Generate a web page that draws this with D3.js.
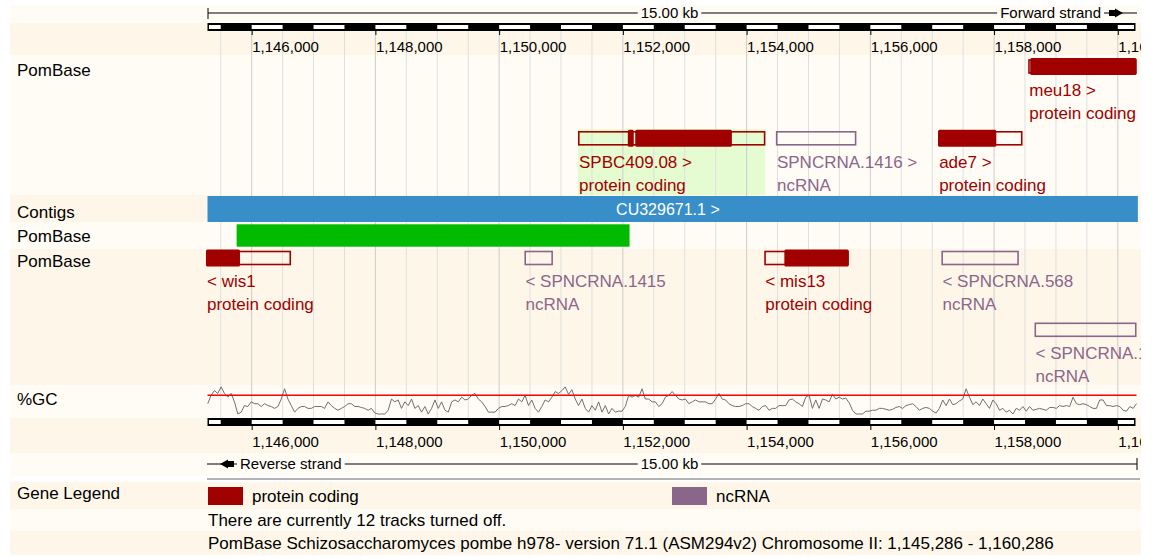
<!DOCTYPE html>
<html>
<head>
<meta charset="utf-8">
<script src="https://cdn.jsdelivr.net/npm/d3@7"></script>
<style>
  body { margin: 0; background: #fff; }
  svg text { font-family: "Liberation Sans", Arial, sans-serif; }
</style>
</head>
<body>
<svg id="chart" width="1155" height="557"></svg>
<script>
// Ensembl-style region view: PomBase, chromosome II 1,145,286 - 1,160,286

// ---- data ----
const regionStart = 1145286;
const regionEnd = 1160286;
const tickValues = [1146000, 1148000, 1150000, 1152000, 1154000, 1156000, 1158000, 1160000];
const minorStep = 500;
const scaleLabel = '15.00 kb';

const trackNames = ['PomBase', 'Contigs', 'PomBase', 'PomBase', '%GC'];

const contig = { name: 'CU329671.1', start: 1145286, end: 1160300 };
const pombaseBlock = { start: 1145757, end: 1152108 };

// forward strand genes (row = packing row inside the track)
const forwardGenes = [
  { name: 'meu18', biotype: 'protein coding', start: 1158552, end: 1160400, cds: [[1158584, 1160400]], row: 0 },
  { name: 'SPBC409.08', biotype: 'protein coding', start: 1151275, end: 1154303, cds: [[1152080, 1152176], [1152200, 1153762]], row: 1, selected: true },
  { name: 'SPNCRNA.1416', biotype: 'ncRNA', start: 1154474, end: 1155774, cds: [], row: 1 },
  { name: 'ade7', biotype: 'protein coding', start: 1157096, end: 1158459, cds: [[1157096, 1158036]], row: 1 },
];

// reverse strand genes
const reverseGenes = [
  { name: 'wis1', biotype: 'protein coding', start: 1145200, end: 1146636, cds: [[1145200, 1145811]], row: 0 },
  { name: 'SPNCRNA.1415', biotype: 'ncRNA', start: 1150409, end: 1150869, cds: [], row: 0 },
  { name: 'mis13', biotype: 'protein coding', start: 1154286, end: 1155650, cds: [[1154610, 1155650]], row: 0 },
  { name: 'SPNCRNA.568', biotype: 'ncRNA', start: 1157149, end: 1158400, cds: [], row: 0 },
  { name: 'SPNCRNA.1417', biotype: 'ncRNA', start: 1158654, end: 1160400, cds: [], row: 1 },
];

// %GC per window
const gcStart = 1145290;
const gcWindow = 54;
const gcPercent = [
  41,50,55,52,59,52,48,52,43,30, 32,39,38,43,41,41,38,41,39,38,
  36,38,46,57,46,39,32,36,38,38, 36,36,38,38,38,36,43,39,36,34,
  36,38,41,41,38,38,37,36,34,36, 31,30,30,30,34,46,43,45,36,43,
  39,46,36,39,32,38,30,36,45,36, 43,34,32,43,45,43,48,45,46,50,
  52,46,43,38,32,32,32,36,38,38, 39,41,39,46,43,50,39,45,36,32,
  38,45,43,48,54,52,55,59,51,56, 46,39,46,36,32,39,34,43,32,39,
  30,36,32,33,33,38,50,48,50,48, 57,46,46,43,43,38,41,48,50,54,
  50,
  46,45,46,41,43,45,43,43,43,41, 41,46,52,46,45,41,39,38,38,39,
  41,41,38,36,34,38,39,34,36,36, 39,39,39,45,46,43,41,38,48,50,
  36,45,36,46,45,43,51,46,48,46, 47,42,34,30,30,30,33,33,34,34,
  36,36,35,34,35,37,38,36,39,40, 41,38,34,36,37,36,33,31,36,45,
  39,46,40,41,44,46,57,48,40,43, 39,46,41,36,45,41,34,36,32,34,
  30,36,34,38,33,38,34,35,36,35, 34,37,37,36,39,38,39,38,48,41,
  40,41,40,38,36,36,45,45,39,39, 38,39,38,34,33,38,36,41
];
const gcReference = 50;

const legendItems = ['protein coding', 'ncRNA'];
const infoLines = [
  'There are currently 12 tracks turned off.',
  'PomBase Schizosaccharomyces pombe h978- version 71.1 (ASM294v2) Chromosome II: 1,145,286 - 1,160,286'
];

// ---- styles ----
const biotypeColor = { 'protein coding': '#a00000', 'ncRNA': '#8b668b' };
const PALE = '#fffcf6';
const BEIGE = '#fef7e9';

const svg = d3.select('#chart');
const x = d3.scaleLinear().domain([regionStart, regionEnd]).range([207.5, 1135.5]);
const xMin = 206, xMax = 1136.5;
const clampX = v => Math.max(xMin, Math.min(xMax, x(v)));

svg.append('defs').append('clipPath').attr('id', 'panel')
  .append('rect').attr('x', 0).attr('y', 0).attr('width', 1141).attr('height', 557);

const root = svg.append('g').attr('clip-path', 'url(#panel)');

// background stripes
const bands = [
  [5, 23, PALE], [23, 55, BEIGE], [55, 195, PALE], [195, 222.5, BEIGE], [222.5, 249, PALE],
  [249, 385, BEIGE], [385, 418, PALE], [418, 453, BEIGE], [453, 476, PALE],
  [482, 509, BEIGE], [509, 531, PALE], [531, 555, BEIGE]
];
root.selectAll('rect.band').data(bands).join('rect')
  .attr('class', 'band')
  .attr('x', 10).attr('width', 1131)
  .attr('y', d => d[0]).attr('height', d => d[1] - d[0])
  .attr('fill', d => d[2]);

// selected gene highlight
forwardGenes.filter(g => g.selected).forEach(g => {
  const top = 58 + g.row * 71.5;
  root.append('rect')
    .attr('x', x(g.start)).attr('width', x(g.end) - x(g.start))
    .attr('y', top - 0.5).attr('height', 195 - top + 0.5)
    .attr('fill', '#e5fbd0');
});

// gridlines every 500 bp
const minorTicks = d3.range(Math.ceil(regionStart / minorStep) * minorStep, regionEnd, minorStep);
root.selectAll('line.grid').data(minorTicks).join('line')
  .attr('class', 'grid')
  .attr('x1', d => x(d)).attr('x2', d => x(d))
  .attr('y1', 31).attr('y2', 418)
  .attr('stroke', d => tickValues.includes(d) ? '#cccccc' : '#dfdfdf')
  .attr('stroke-width', 1);

// ---- rulers ----
function drawBar(y) {
  const bounds = [regionStart, ...minorTicks, regionEnd];
  root.append('rect')
    .attr('x', x(regionStart)).attr('width', x(regionEnd) - x(regionStart))
    .attr('y', y).attr('height', 8).attr('fill', '#000');
  const white = [];
  for (let i = 0; i < bounds.length - 1; i += 2) white.push([bounds[i], bounds[i + 1], i]);
  root.selectAll(null).data(white).join('rect')
    .attr('x', d => x(d[0]) + (d[2] === 0 ? 1.5 : 0))
    .attr('width', d => x(d[1]) - x(d[0]) - (d[2] === 0 ? 1.5 : 0) - (d[2] === bounds.length - 2 ? 1.5 : 0))
    .attr('y', y + 2).attr('height', 4)
    .attr('fill', '#fff');

  const axis = d3.axisBottom(x).tickValues(tickValues).tickSize(4).tickFormat(d3.format(','));
  const g = root.append('g').attr('transform', `translate(0,${y + 8})`).call(axis);
  g.select('.domain').remove();
  g.selectAll('.tick line').attr('stroke', '#000');
  g.selectAll('.tick text')
    .attr('x', 0).attr('y', 16).attr('dy', '0.35em')
    .attr('text-anchor', 'start')
    .attr('fill', '#000')
    .style('font-size', '15px')
    .style('font-family', '"Liberation Sans", Arial, sans-serif');
}
drawBar(23);
drawBar(418);

function scaleText(txt, xPos, y, anchor, bg) {
  const t = root.append('text')
    .attr('x', xPos).attr('y', y).attr('dy', '0.35em')
    .attr('text-anchor', anchor)
    .style('font-size', '15px').attr('fill', '#000')
    .text(txt);
  const b = t.node().getBBox();
  root.insert('rect', () => t.node())
    .attr('x', b.x - 3).attr('width', b.width + 6)
    .attr('y', y - 5).attr('height', 10)
    .attr('fill', bg);
}

// forward strand scale line
root.append('line').attr('x1', 208).attr('x2', 1122).attr('y1', 13).attr('y2', 13).attr('stroke', '#000');
root.append('line').attr('x1', 208).attr('x2', 208).attr('y1', 8).attr('y2', 19).attr('stroke', '#000');
scaleText(scaleLabel, (x(regionStart) + x(regionEnd)) / 2 - 2, 13, 'middle', PALE);
scaleText('Forward strand', 1101, 13, 'end', PALE);
root.append('rect').attr('x', 1109).attr('y', 10).attr('width', 7).attr('height', 6).attr('fill', '#000');
root.append('path').attr('d', 'M1115,8.5L1123,13L1115,17.5Z').attr('fill', '#000');
root.append('line').attr('x1', 1122).attr('x2', 1137).attr('y1', 13).attr('y2', 13).attr('stroke', '#000');

// reverse strand scale line
root.append('line').attr('x1', 207).attr('x2', 1137).attr('y1', 464).attr('y2', 464).attr('stroke', '#000');
root.append('line').attr('x1', 1137).attr('x2', 1137).attr('y1', 458).attr('y2', 470).attr('stroke', '#000');
scaleText(scaleLabel, (x(regionStart) + x(regionEnd)) / 2 - 2, 464, 'middle', PALE);
scaleText('Reverse strand', 240, 464, 'start', PALE);
root.append('rect').attr('x', 227).attr('y', 461).attr('width', 7).attr('height', 6).attr('fill', '#000');
root.append('path').attr('d', 'M228,459.5L220,464L228,468.5Z').attr('fill', '#000');

// ---- contig + PomBase block ----
root.append('rect')
  .attr('x', x(contig.start)).attr('width', clampX(contig.end) - x(contig.start) + 1.5)
  .attr('y', 196).attr('height', 26)
  .attr('fill', '#378ec9');
root.append('text')
  .attr('x', (x(contig.start) + clampX(contig.end)) / 2 - 4).attr('y', 209).attr('dy', '0.35em')
  .attr('text-anchor', 'middle').attr('fill', '#fff')
  .style('font-size', '16px')
  .text(contig.name + ' >');

root.append('rect')
  .attr('x', x(pombaseBlock.start)).attr('width', x(pombaseBlock.end) - x(pombaseBlock.start))
  .attr('y', 224.3).attr('height', 22.4)
  .attr('fill', '#00bb00');

// ---- genes ----
function drawGenes(genes, top0, strand) {
  genes.forEach(g => {
    const col = biotypeColor[g.biotype];
    const top = top0 + g.row * 71.8;
    const x0 = clampX(g.start), x1 = clampX(g.end);
    root.append('rect')
      .attr('x', x0 + 0.75).attr('width', Math.max(0, x1 - x0 - 1.5))
      .attr('y', top + 2).attr('height', 13)
      .attr('fill', 'none').attr('stroke', col).attr('stroke-width', 1.6);
    g.cds.forEach(([s, e]) => {
      root.append('rect')
        .attr('x', clampX(s)).attr('width', clampX(e) - clampX(s))
        .attr('y', top).attr('height', 17)
        .attr('rx', 1.5)
        .attr('fill', col);
    });
    const label = strand > 0 ? `${g.name} >` : `< ${g.name}`;
    root.append('text')
      .attr('x', x0 + 1).attr('y', top + 32).attr('dy', '0.35em')
      .attr('fill', col).style('font-size', '17px')
      .text(label);
    root.append('text')
      .attr('x', x0 + 1).attr('y', top + 55).attr('dy', '0.35em')
      .attr('fill', col).style('font-size', '17px')
      .text(g.biotype);
  });
}
drawGenes(forwardGenes, 58, 1);
drawGenes(reverseGenes, 249.5, -1);

// ---- %GC ----
const yGC = d3.scaleLinear().domain([30, 50]).range([414, 395.3]);
const gcLine = d3.line()
  .x((d, i) => x(gcStart + i * gcWindow))
  .y(d => yGC(d));
root.append('path')
  .datum(gcPercent)
  .attr('d', gcLine)
  .attr('fill', 'none')
  .attr('stroke', '#6f6f6f')
  .attr('stroke-width', 1);
root.append('line')
  .attr('x1', 207.5).attr('x2', 1136.5)
  .attr('y1', yGC(gcReference)).attr('y2', yGC(gcReference))
  .attr('stroke', '#ff0000').attr('stroke-width', 1.6);

// ---- track labels ----
const labelY = [70, 212, 236, 261, 399];
root.selectAll('text.track').data(trackNames).join('text')
  .attr('class', 'track')
  .attr('x', 17).attr('y', (d, i) => labelY[i]).attr('dy', '0.35em')
  .attr('fill', '#000').style('font-size', '17px')
  .text(d => d);

// ---- legend ----
root.append('line')
  .attr('x1', 207).attr('x2', 1140).attr('y1', 479).attr('y2', 479)
  .attr('stroke', '#9a9a9a').attr('stroke-width', 1.5);
root.append('text')
  .attr('x', 17).attr('y', 493).attr('dy', '0.35em')
  .attr('fill', '#000').style('font-size', '17px')
  .text('Gene Legend');
const legendX = [208, 672];
legendItems.forEach((item, i) => {
  root.append('rect')
    .attr('x', legendX[i]).attr('y', 487).attr('width', 35).attr('height', 18)
    .attr('fill', biotypeColor[item]);
  root.append('text')
    .attr('x', legendX[i] + 44).attr('y', 496).attr('dy', '0.35em')
    .attr('fill', '#000').style('font-size', '17px')
    .text(item);
});
infoLines.forEach((line, i) => {
  root.append('text')
    .attr('x', 208).attr('y', 520 + i * 23).attr('dy', '0.35em')
    .attr('fill', '#000').style('font-size', '17px')
    .text(line);
});
</script>
</body>
</html>
